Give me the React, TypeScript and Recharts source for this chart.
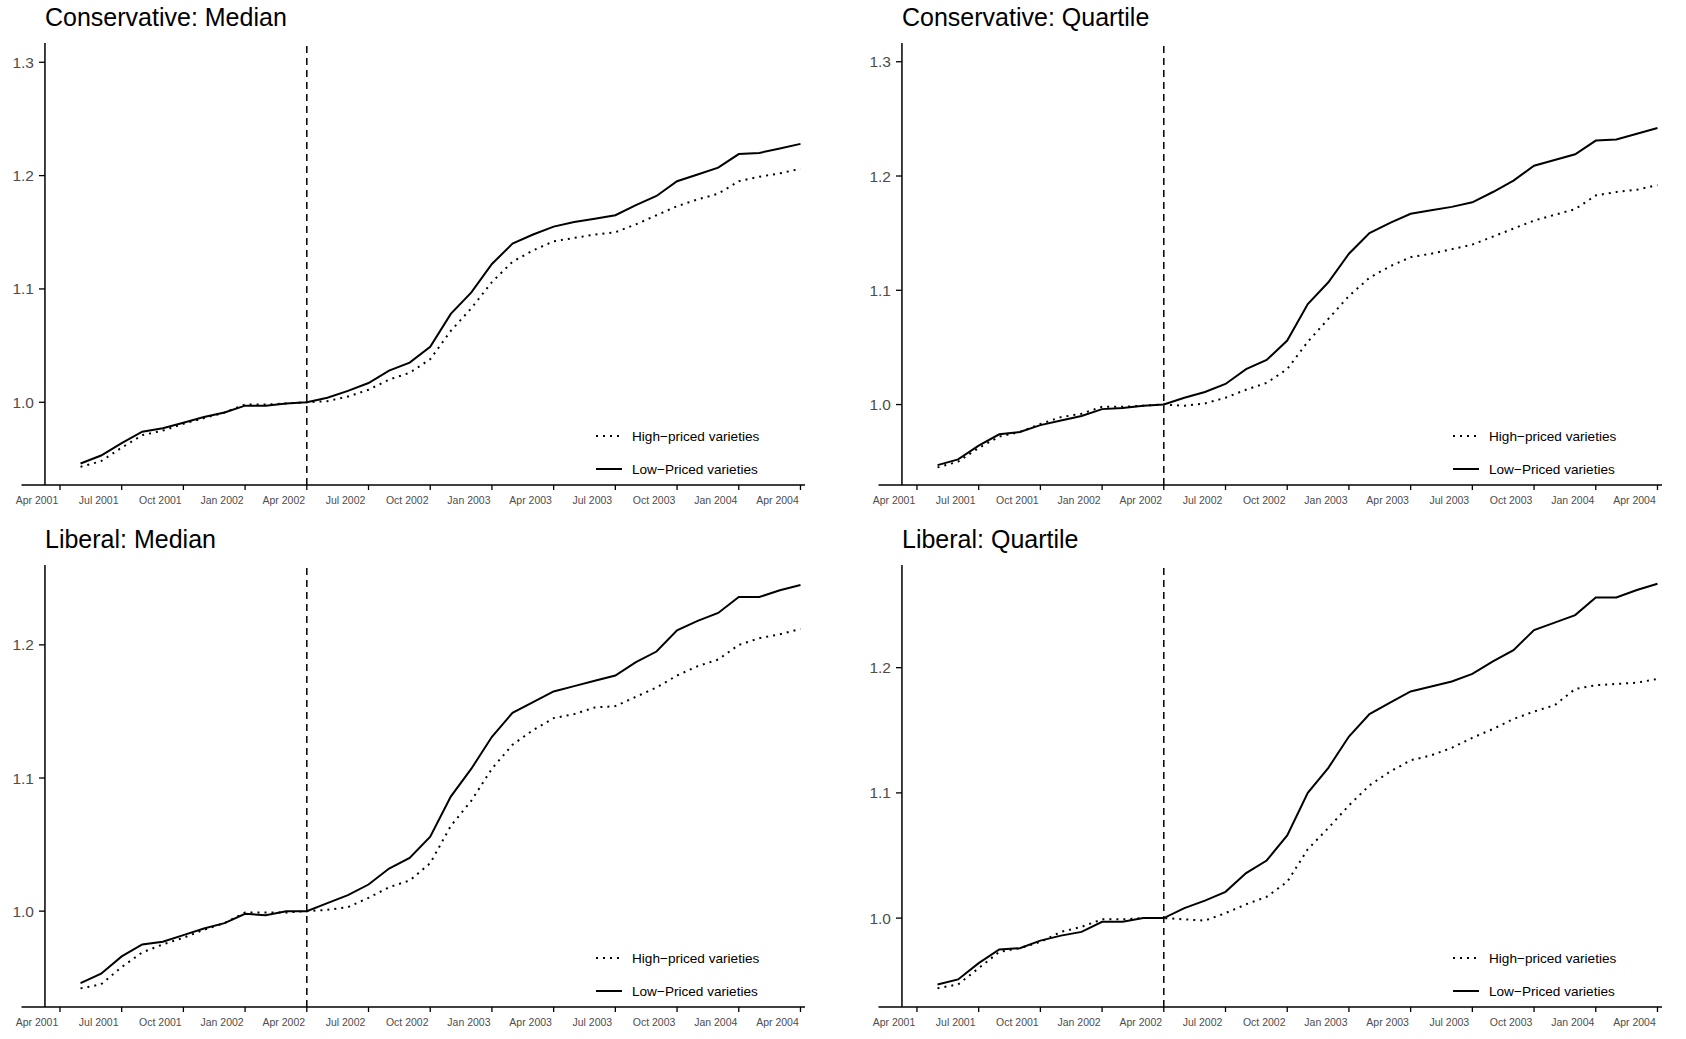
import React from "react";
import { LineChart, Line, XAxis, YAxis, ReferenceLine } from "recharts";

// months counted from Jan 2001 (May 2001 = 4 ... Apr 2004 = 39)
const months = Array.from({ length: 36 }, (_, i) => 4 + i);
const tickMonths = [3, 6, 9, 12, 15, 18, 21, 24, 27, 30, 33, 36, 39];
const tickLabels = [
  "Apr 2001", "Jul 2001", "Oct 2001", "Jan 2002", "Apr 2002", "Jul 2002", "Oct 2002",
  "Jan 2003", "Apr 2003", "Jul 2003", "Oct 2003", "Jan 2004", "Apr 2004",
];

const consMedianHigh = [0.943, 0.948, 0.96, 0.971, 0.975, 0.981, 0.986, 0.991, 0.998, 0.998, 0.999, 1.0,
  1.001, 1.005, 1.011, 1.02, 1.026, 1.038, 1.063, 1.083, 1.106, 1.124, 1.134, 1.142, 1.145, 1.148, 1.15,
  1.157, 1.165, 1.173, 1.179, 1.184, 1.195, 1.199, 1.202, 1.206];
const consMedianLow = [0.946, 0.953, 0.964, 0.974, 0.977, 0.982, 0.987, 0.991, 0.997, 0.997, 0.999, 1.0,
  1.004, 1.01, 1.017, 1.028, 1.035, 1.049, 1.078, 1.097, 1.122, 1.14, 1.148, 1.155, 1.159, 1.162, 1.165,
  1.174, 1.182, 1.195, 1.201, 1.207, 1.219, 1.22, 1.224, 1.228];
const consQuartHigh = [0.945, 0.95, 0.962, 0.972, 0.976, 0.983, 0.989, 0.992, 0.998, 0.998, 0.999, 1.0,
  0.999, 1.001, 1.006, 1.013, 1.019, 1.031, 1.055, 1.075, 1.095, 1.111, 1.121, 1.129, 1.132, 1.136, 1.14,
  1.147, 1.154, 1.161, 1.166, 1.171, 1.183, 1.186, 1.188, 1.192];
const consQuartLow = [0.947, 0.952, 0.964, 0.974, 0.976, 0.982, 0.986, 0.99, 0.996, 0.997, 0.999, 1.0,
  1.006, 1.011, 1.018, 1.031, 1.039, 1.056, 1.088, 1.107, 1.132, 1.15, 1.159, 1.167, 1.17, 1.173, 1.177,
  1.186, 1.196, 1.209, 1.214, 1.219, 1.231, 1.232, 1.237, 1.242];
const libMedianHigh = [0.942, 0.945, 0.958, 0.969, 0.975, 0.98, 0.986, 0.991, 0.999, 0.999, 0.999, 1.0,
  1.001, 1.003, 1.01, 1.018, 1.023, 1.036, 1.064, 1.083, 1.107, 1.125, 1.136, 1.145, 1.148, 1.153, 1.154,
  1.161, 1.168, 1.177, 1.184, 1.189, 1.2, 1.205, 1.208, 1.212];
const libMedianLow = [0.946, 0.953, 0.966, 0.975, 0.977, 0.982, 0.987, 0.991, 0.998, 0.997, 1.0, 1.0,
  1.006, 1.012, 1.02, 1.032, 1.04, 1.056, 1.086, 1.107, 1.131, 1.149, 1.157, 1.165, 1.169, 1.173, 1.177,
  1.187, 1.195, 1.211, 1.218, 1.224, 1.236, 1.236, 1.241, 1.245];
const libQuartHigh = [0.944, 0.947, 0.96, 0.973, 0.976, 0.981, 0.989, 0.993, 0.999, 0.999, 1.0, 1.0,
  0.999, 0.998, 1.004, 1.011, 1.017, 1.029, 1.055, 1.072, 1.09, 1.106, 1.117, 1.126, 1.13, 1.136, 1.144,
  1.151, 1.159, 1.165, 1.17, 1.183, 1.186, 1.187, 1.188, 1.191];
const libQuartLow = [0.947, 0.951, 0.964, 0.975, 0.976, 0.982, 0.986, 0.989, 0.997, 0.997, 1.0, 1.0,
  1.008, 1.014, 1.021, 1.036, 1.046, 1.066, 1.1, 1.12, 1.145, 1.163, 1.172, 1.181, 1.185, 1.189, 1.195,
  1.205, 1.214, 1.23, 1.236, 1.242, 1.256, 1.256, 1.262, 1.267];

const FONT = "'Liberation Sans', Arial, sans-serif";
const W = 843;
const H = 522;
const RIGHT_X = 857;

const XTick = ({ x, y, payload }: any) => {
  const i = tickMonths.indexOf(payload.value);
  return (
    <g>
      <line x1={x} x2={x} y1={y - 8} y2={y - 3} stroke="#000" strokeWidth={1.3} />
      <text x={x - 23} y={y + 11} textAnchor="middle" fontSize={10.5} fill="#4d4d4d" fontFamily={FONT}>
        {tickLabels[i]}
      </text>
    </g>
  );
};

const YTick = ({ y, payload }: any) => (
  <g>
    <line x1={39} x2={45} y1={y} y2={y} stroke="#000" strokeWidth={1.3} />
    <text x={34} y={y + 5.5} textAnchor="end" fontSize={15.5} fill="#4d4d4d" fontFamily={FONT}>
      {Number(payload.value).toFixed(1)}
    </text>
  </g>
);

function Panel({ title, high, low, domain, ticks, left, top }: any) {
  const data = months.map((m, i) => ({ m, high: high[i], low: low[i] }));
  return (
    <div style={{ position: "absolute", left, top, width: W, height: H }}>
      <LineChart width={W} height={H} data={data} margin={{ top: 43, right: 38, left: 0, bottom: 17 }}>
        <XAxis
          dataKey="m"
          type="number"
          domain={[1.13, 39.22]}
          ticks={tickMonths}
          tick={<XTick />}
          tickLine={false}
          axisLine={{ stroke: "#000", strokeWidth: 1.5 }}
          height={20}
          interval={0}
        />
        <YAxis
          type="number"
          domain={domain}
          ticks={ticks}
          allowDataOverflow
          width={21.5}
          interval={0}
          tick={<YTick />}
          tickLine={false}
          axisLine={false}
        />
        <ReferenceLine x={2.27} stroke="#000" strokeWidth={1.5} />
        <ReferenceLine x={15} stroke="#000" strokeWidth={1.5} strokeDasharray="7 5" />
        <Line dataKey="high" stroke="#000" strokeWidth={2} strokeDasharray="2 5" dot={false} isAnimationActive={false} />
        <Line dataKey="low" stroke="#000" strokeWidth={2} dot={false} isAnimationActive={false} />
      </LineChart>
      <div style={{ position: "absolute", left: 45, top: 3, fontSize: 25, lineHeight: "28px", fontFamily: FONT, color: "#000" }}>
        {title}
      </div>
      {[
        { label: "High\u2212priced varieties", dash: "2 5", y: 436 },
        { label: "Low\u2212Priced varieties", dash: undefined, y: 469 },
      ].map((l) => (
        <div key={l.label} style={{ position: "absolute", left: 594, top: l.y - 9, height: 18, display: "flex", alignItems: "center", fontFamily: FONT, fontSize: 13.6, color: "#000" }}>
          <svg width={30} height={18}>
            <line x1={2} x2={28} y1={9} y2={9} stroke="#000" strokeWidth={2} strokeDasharray={l.dash} />
          </svg>
          <span style={{ marginLeft: 8 }}>{l.label}</span>
        </div>
      ))}
    </div>
  );
}

export default function App() {
  return (
    <div style={{ position: "absolute", left: 0, top: 0, width: 1686, height: 1039, background: "#fff", overflow: "hidden" }}>
      <Panel title="Conservative: Median" high={consMedianHigh} low={consMedianLow} domain={[0.927, 1.317]} ticks={[1.0, 1.1, 1.2, 1.3]} left={0} top={0} />
      <Panel title="Conservative: Quartile" high={consQuartHigh} low={consQuartLow} domain={[0.9296, 1.3164]} ticks={[1.0, 1.1, 1.2, 1.3]} left={RIGHT_X} top={0} />
      <Panel title="Liberal: Median" high={libMedianHigh} low={libMedianLow} domain={[0.928, 1.26]} ticks={[1.0, 1.1, 1.2]} left={0} top={522} />
      <Panel title="Liberal: Quartile" high={libQuartHigh} low={libQuartLow} domain={[0.929, 1.282]} ticks={[1.0, 1.1, 1.2]} left={RIGHT_X} top={522} />
    </div>
  );
}
